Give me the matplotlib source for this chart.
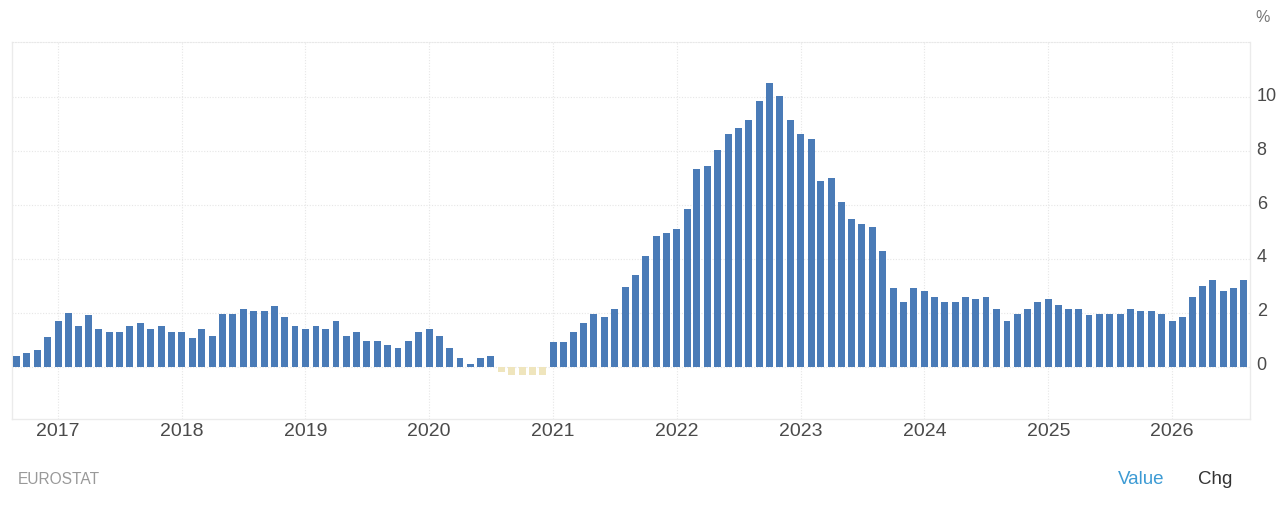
import matplotlib
matplotlib.use("Agg")
import matplotlib.pyplot as plt
import matplotlib.dates as mdates
from matplotlib.transforms import ScaledTranslation
import pandas as pd

start_month = "2016-09-01"
values = [
    0.4, 0.5, 0.6, 1.1,
    1.7, 2.0, 1.5, 1.9, 1.4, 1.3, 1.3, 1.5, 1.6, 1.4, 1.5, 1.3,
    1.3, 1.05, 1.4, 1.15, 1.95, 1.95, 2.15, 2.05, 2.05, 2.25, 1.85, 1.5,
    1.4, 1.5, 1.4, 1.7, 1.15, 1.3, 0.95, 0.95, 0.8, 0.7, 0.95, 1.3,
    1.4, 1.15, 0.7, 0.3, 0.1, 0.3, 0.4, -0.2, -0.3, -0.3, -0.3, -0.3,
    0.9, 0.9, 1.3, 1.6, 1.95, 1.85, 2.15, 2.95, 3.4, 4.1, 4.85, 4.95,
    5.1, 5.85, 7.35, 7.45, 8.05, 8.65, 8.85, 9.15, 9.85, 10.55, 10.05, 9.15,
    8.65, 8.45, 6.9, 7.0, 6.1, 5.5, 5.3, 5.2, 4.3, 2.9, 2.4, 2.9,
    2.8, 2.6, 2.4, 2.4, 2.6, 2.5, 2.6, 2.15, 1.7, 1.95, 2.15, 2.4,
    2.5, 2.3, 2.15, 2.15, 1.9, 1.95, 1.95, 1.95, 2.15, 2.05, 2.05, 1.95,
    1.7, 1.85, 2.6, 3.0, 3.2, 2.8, 2.9, 3.2,
]
years = list(range(2017, 2027))
y_ticks = [0, 2, 4, 6, 8, 10]
source = "EUROSTAT"
unit = "%"

dates = pd.date_range(start_month, periods=len(values), freq="MS")
W, H = 1280, 507
L, R, T, B = 12, 1250, 42, 419

plt.rcParams["font.family"] = ["Liberation Sans", "DejaVu Sans"]
fig = plt.figure(figsize=(W / 100, H / 100), dpi=100, facecolor="white")
ax = fig.add_axes([L / W, 1 - B / H, (R - L) / W, (B - T) / H])

colors = ["#4a7bb7" if v >= 0 else "#efe5bd" for v in values]
ax.bar(dates, values, width=20.5, color=colors, linewidth=0, zorder=3)

ax.set_xlim(pd.Timestamp("2017-01-01") - pd.Timedelta(days=136),
            pd.Timestamp("2026-01-01") + pd.Timedelta(days=230))
ax.set_ylim(-1.95, 12.06)

ax.set_xticks([pd.Timestamp(f"{y}-01-01") for y in years])
ax.xaxis.set_major_formatter(mdates.DateFormatter("%Y"))
ax.set_yticks(y_ticks)
ax.yaxis.tick_right()
ax.tick_params(axis="x", length=0, pad=2.8, labelsize=14, labelcolor="#4a4a4a")
ax.tick_params(axis="y", length=0, pad=4.8, labelsize=13, labelcolor="#4a4a4a")
for lab in ax.get_yticklabels():
    lab.set_transform(lab.get_transform() + ScaledTranslation(0, 3 / 100, fig.dpi_scale_trans))

ax.grid(True, color="#e6e6e6", linestyle=(0, (1, 1.5)), linewidth=0.8, zorder=0)
ax.set_axisbelow(True)
for side in ("left", "bottom", "right"):
    ax.spines[side].set_color("#ebebeb")
    ax.spines[side].set_linewidth(1)
ax.spines["top"].set_color("#e8e8e8")
ax.spines["top"].set_linestyle((0, (1, 1.5)))
ax.spines["top"].set_linewidth(0.8)

fig.text(1263 / W, 1 - 17 / H, unit, ha="center", va="center", fontsize=11.5, color="#777777")
fig.text(18 / W, 1 - 479 / H, source, ha="left", va="center", fontsize=11.2, color="#999999")
fig.text(1141 / W, 1 - 479 / H, "Value", ha="center", va="center", fontsize=13.5, color="#3d9bd4")
fig.text(1215 / W, 1 - 479 / H, "Chg", ha="center", va="center", fontsize=13.5, color="#333333")

fig.savefig("out.png", dpi=100)
